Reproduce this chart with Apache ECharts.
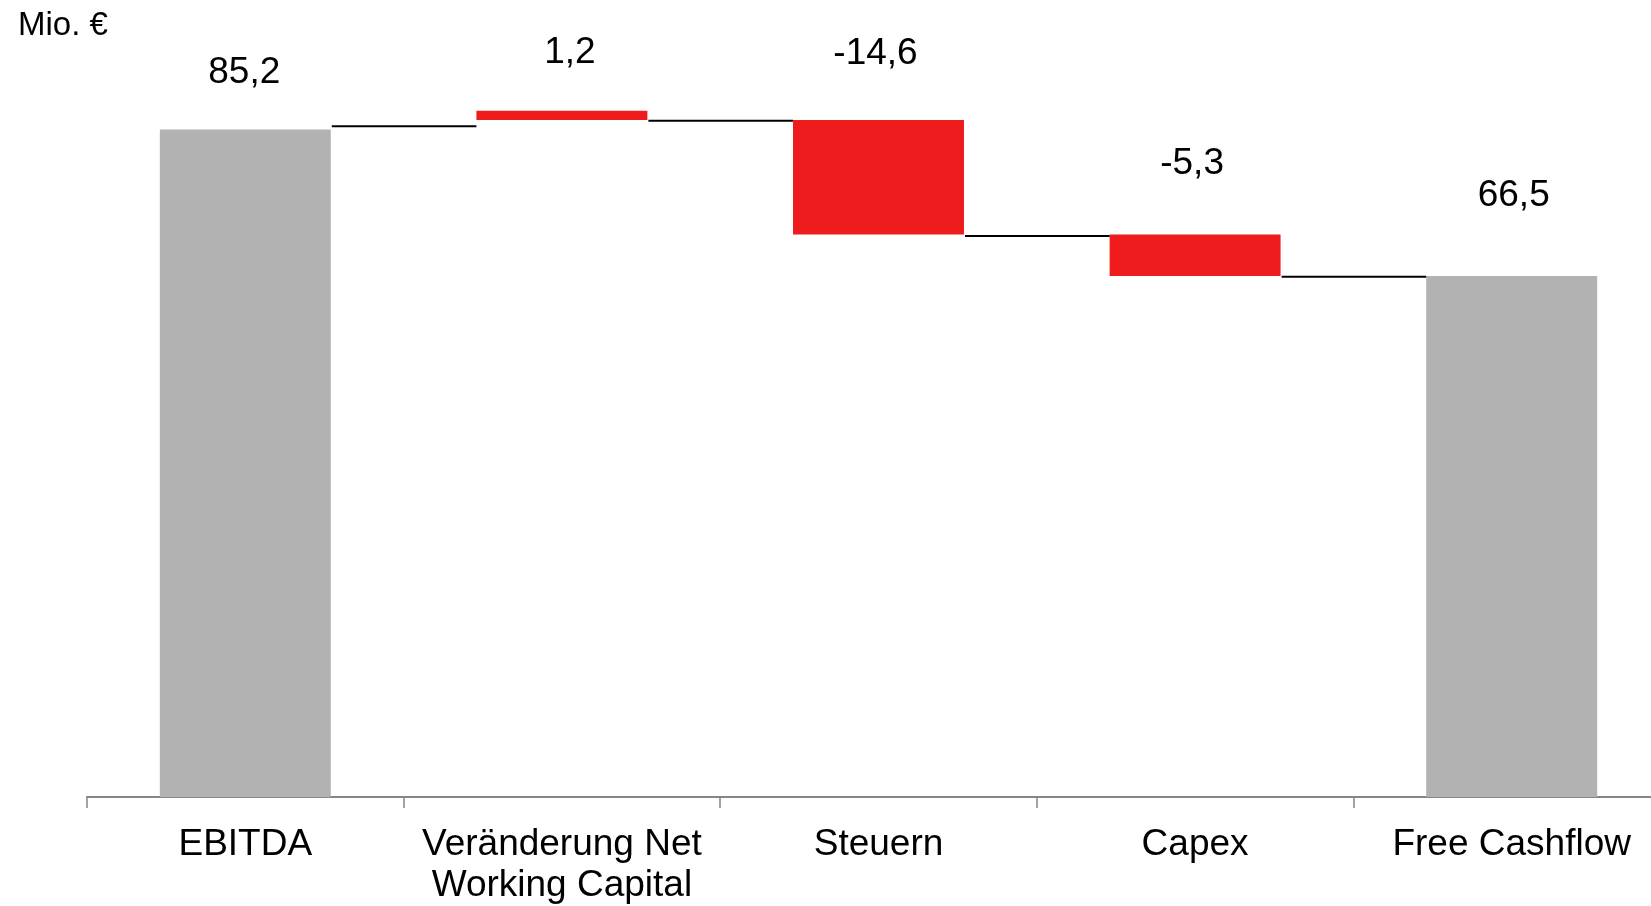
<!DOCTYPE html>
<html>
<head>
<meta charset="utf-8">
<title>Free Cashflow Bridge</title>
<script src="https://cdn.jsdelivr.net/npm/echarts@6/dist/echarts.min.js"></script>
<style>
  html, body { margin: 0; padding: 0; background: #fff; overflow: hidden; }
  /* the axis runs past the right edge of the picture, so the chart is wider than the page */
  #chart { width: 1669.5px; height: 906px; }
</style>
</head>
<body>
<div id="chart"></div>
<script>
// data
const categories = ['EBITDA', 'Veränderung Net\nWorking Capital', 'Steuern', 'Capex', 'Free Cashflow'];
const deltas = [85.2, 1.2, -14.6, -5.3, 66.5];
const isTotal = [true, false, false, false, true];
const barBottom = [0, 86.4, 71.8, 66.5, 0];
const barTop = [85.2, 87.6, 86.4, 71.8, 66.5];
const connectorLevels = [85.6, 86.3, 71.6, 66.4];
const unitLabel = 'Mio. €';

// label placement (styling only)
const labelGap = [38, 39, 48, 52, 62];
const labelShift = [-1, 8, -3, -3, 2];

const FONT = '"Liberation Sans", Arial, sans-serif';
const GREY = '#b2b2b2';
const RED = '#ee1c1c';
const BAR_RATIO = 0.54;

const visible = barTop.map(function (t, i) { return +(t - barBottom[i]).toFixed(1); });
const connectors = connectorLevels.map(function (v, i) { return [i, v]; });

function fmt(v) {
    return v.toFixed(1).replace('.', ',');
}

const chart = echarts.init(document.getElementById('chart'));
chart.setOption({
    animation: false,
    title: {
        text: unitLabel,
        left: 18,
        top: 9,
        padding: 0,
        textStyle: { fontFamily: FONT, fontSize: 33, fontWeight: 'normal', color: '#000' }
    },
    grid: { left: 87, right: 0, top: 13.5, bottom: 109 },
    xAxis: {
        type: 'category',
        data: categories,
        boundaryGap: true,
        axisLine: { lineStyle: { color: '#868686', width: 2 } },
        axisTick: { show: true, length: 11, lineStyle: { color: '#868686', width: 1.5 } },
        axisLabel: {
            interval: 0,
            margin: 27,
            fontFamily: FONT,
            fontSize: 37,
            lineHeight: 41,
            color: '#000'
        }
    },
    yAxis: {
        type: 'value',
        min: 0,
        max: 100,
        show: false,
        splitLine: { show: false }
    },
    series: [
        {
            name: 'basis',
            type: 'bar',
            stack: 'wf',
            barWidth: (BAR_RATIO * 100) + '%',
            itemStyle: { color: 'transparent' },
            emphasis: { disabled: true },
            data: barBottom
        },
        {
            name: 'wert',
            type: 'bar',
            stack: 'wf',
            barWidth: (BAR_RATIO * 100) + '%',
            data: visible.map(function (v, i) {
                return {
                    value: v,
                    itemStyle: { color: isTotal[i] ? GREY : RED },
                    label: { distance: labelGap[i], offset: [labelShift[i], 0] }
                };
            }),
            label: {
                show: true,
                position: 'top',
                fontFamily: FONT,
                fontSize: 37,
                color: '#000',
                formatter: function (p) { return fmt(deltas[p.dataIndex]); }
            }
        },
        {
            name: 'verbindung',
            type: 'custom',
            z: 5,
            encode: { x: 0, y: 1 },
            renderItem: function (params, api) {
                const i = api.value(0);
                const level = api.value(1);
                const p1 = api.coord([i, level]);
                const p2 = api.coord([i + 1, level]);
                const half = api.size([1, 0])[0] * BAR_RATIO / 2;
                return {
                    type: 'line',
                    shape: { x1: p1[0] + half + 1, y1: p1[1], x2: p2[0] - half, y2: p2[1] },
                    style: { stroke: '#000', lineWidth: 2 }
                };
            },
            data: connectors
        }
    ]
});
</script>
</body>
</html>
